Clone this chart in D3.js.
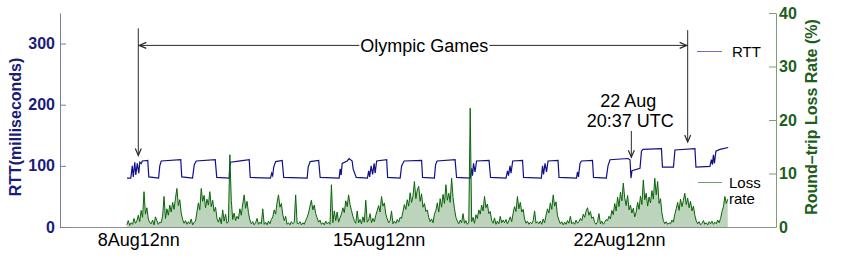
<!DOCTYPE html>
<html>
<head>
<meta charset="utf-8">
<script src="https://cdn.jsdelivr.net/npm/d3@7"></script>
<style>
  html, body { margin: 0; padding: 0; background: #fff; }
  #chart { width: 846px; height: 257px; }
  text { font-family: "Liberation Sans", Arial, Helvetica, sans-serif; }
</style>
</head>
<body>
<div id="chart"></div>
<script>
// ---------------- data ----------------
// times are "day of August 2008, UTC": 8.5 = 8 Aug 12:00
const xTickDays = [8.5, 15.5, 22.5];
const xTickLabels = ['8Aug12nn', '15Aug12nn', '22Aug12nn'];
const rttTicks = [0, 100, 200, 300];
const lossTicks = [0, 10, 20, 30, 40];

// RTT (ms), [day, value] at each corner of the trace
const rttPoints = [
  [8.171, 80], [8.282, 80], [8.325, 100], [8.354, 82], [8.398, 106], [8.427, 85],
  [8.471, 104], [8.515, 88], [8.544, 106], [8.587, 104], [8.616, 108], [8.776, 109],
  [8.806, 82], [9.091, 80], [9.126, 100], [9.169, 108], [9.737, 110], [9.766, 82],
  [10.080, 80], [10.130, 102], [10.188, 108], [10.741, 110], [10.785, 81],
  [11.148, 80], [11.163, 100], [11.192, 106], [11.469, 108], [11.731, 110], [11.760, 81],
  [12.350, 80], [12.385, 88], [12.414, 84], [12.444, 98], [12.502, 107], [12.691, 109], [12.735, 81],
  [13.418, 80], [13.448, 98], [13.506, 107], [13.753, 109], [13.797, 81],
  [14.350, 80], [14.379, 95], [14.408, 85], [14.437, 104], [14.583, 108], [14.641, 112],
  [14.728, 108], [14.757, 95], [14.846, 81],
  [15.174, 80], [15.209, 92], [15.238, 82], [15.282, 100], [15.325, 86], [15.369, 104],
  [15.398, 88], [15.442, 108], [15.733, 110], [15.762, 81],
  [16.126, 80], [16.169, 100], [16.242, 108], [16.751, 109], [16.779, 81],
  [17.123, 80], [17.158, 102], [17.202, 108], [17.726, 110], [17.769, 81],
  [18.170, 80], [18.204, 96], [18.234, 84], [18.263, 104], [18.307, 90], [18.351, 108],
  [18.715, 109], [18.759, 81],
  [19.210, 80], [19.253, 92], [19.282, 84], [19.326, 100], [19.355, 88], [19.404, 108],
  [19.691, 109], [19.720, 81],
  [20.238, 80], [20.273, 100], [20.302, 86], [20.346, 104], [20.389, 90], [20.433, 108],
  [20.724, 109], [20.753, 81],
  [21.262, 80], [21.291, 90], [21.320, 82], [21.364, 104], [21.408, 108], [21.728, 109], [21.757, 81],
  [22.130, 80], [22.179, 100], [22.238, 110], [22.762, 112], [22.820, 110], [22.849, 80],
  [22.878, 92], [23.111, 96], [23.154, 124], [23.198, 127], [23.736, 128], [23.765, 98],
  [24.086, 98], [24.129, 126], [24.711, 128], [24.740, 98],
  [25.147, 99], [25.191, 110], [25.220, 102], [25.249, 118], [25.278, 104], [25.322, 124],
  [25.438, 127], [25.680, 130]
];

// round-trip loss rate (%), hourly samples from 8 Aug 04:00 UTC, one row per day
const lossStartDay = 8 + 4 / 24;
const lossRate = [
  0.4,1.2,0.3,0.8,0.5,1.6,0.7,1.1,2.2,1.0,3.1,1.8,6.6,2.4,3.6,1.5,0.8,0.6,1.3,0.4,1.9,1.2,0.5,0.9,
  0.8,2.0,5.7,1.6,3.4,2.2,4.1,2.8,4.6,3.3,5.4,7.2,4.0,5.1,2.6,1.4,0.7,1.2,0.5,1.0,0.6,1.5,0.4,0.9,
  1.1,2.8,4.5,3.2,7.2,4.8,5.9,3.6,5.2,4.1,6.6,3.8,5.0,2.9,3.7,1.6,0.9,1.8,0.6,3.2,1.1,2.4,0.7,1.0,
  13.5,5.0,1.4,2.6,1.2,2.0,1.5,3.4,2.2,4.3,6.0,3.5,4.8,2.7,1.3,0.6,1.0,0.4,0.8,1.6,0.5,0.9,0.6,3.4,
  0.5,0.9,0.4,1.1,0.6,1.4,1.9,3.2,2.4,4.6,6.0,3.7,4.4,2.3,1.2,2.0,0.5,0.8,0.4,1.0,0.6,0.9,6.0,0.7,
  0.6,1.0,0.4,0.8,0.5,1.2,1.8,2.6,3.9,5.0,3.2,4.1,2.5,1.7,0.9,1.3,0.5,0.8,0.4,1.1,0.6,0.9,0.5,7.9,
  0.8,3.0,1.2,2.8,0.9,1.7,2.4,3.6,2.7,4.9,3.8,6.0,4.2,3.1,2.0,1.2,0.7,3.0,0.8,1.4,0.6,1.9,0.9,5.0,
  0.9,1.3,2.5,0.8,1.6,1.0,2.2,3.1,4.0,2.8,5.7,3.9,4.5,2.4,1.5,0.8,1.2,3.0,0.6,1.1,0.7,1.4,0.9,1.8,
  1.6,2.9,4.2,3.3,5.1,3.9,6.4,4.6,5.8,8.5,5.3,6.9,7.6,4.8,6.2,3.7,4.4,2.9,3.2,1.8,1.0,1.5,0.8,2.4,
  3.1,4.5,2.8,5.3,3.7,6.1,4.4,7.9,5.0,6.3,4.6,9.1,5.5,3.4,1.8,1.1,0.6,1.3,0.8,2.5,0.7,1.2,0.5,0.9,
  22.2,1.0,1.8,0.7,2.3,1.6,3.2,2.4,4.1,3.0,5.7,3.6,4.3,2.5,2.9,1.2,0.7,1.7,0.5,1.1,0.6,2.0,0.8,1.3,
  0.8,1.4,0.6,1.2,1.9,1.0,2.6,3.8,2.9,5.7,3.4,4.6,2.8,3.3,1.5,0.7,1.1,0.5,0.9,0.6,1.2,3.0,0.7,1.0,
  0.6,1.1,0.5,1.5,0.8,2.2,3.4,2.6,4.5,3.3,6.0,3.9,4.7,2.1,1.3,0.6,1.0,0.4,0.9,0.5,1.2,0.7,2.0,0.6,
  0.9,0.5,1.3,0.7,1.0,1.6,1.2,2.4,1.8,3.0,3.6,2.2,2.9,1.6,1.9,0.8,0.5,1.0,2.5,0.6,1.1,0.5,0.9,1.4,
  1.2,2.0,1.5,3.1,2.3,4.4,3.0,5.6,3.8,6.5,4.9,8.2,5.4,4.0,5.9,3.2,4.1,2.6,3.5,1.9,2.8,4.6,3.3,5.8,
  4.2,8.8,5.1,6.3,3.9,5.6,4.5,6.8,5.2,9.1,6.0,8.5,4.4,5.3,2.6,1.2,0.6,1.0,0.5,0.8,0.6,1.3,0.9,2.4,
  3.4,4.6,3.1,5.2,3.8,5.0,6.3,4.2,5.4,3.6,4.8,3.0,3.9,2.2,1.1,0.6,1.0,0.4,0.7,1.2,0.5,0.8,0.4,1.0,
  0.6,1.1,0.5,0.9,0.6,1.3,0.8,1.6,2.9,3.8,5.7,4.4,5.2
];

// events
const olympicStart = 8.5;        // opening, 8 Aug 12:00 UTC
const olympicEnd = 24.5;         // closing, 24 Aug 12:00 UTC
const routeChange = 22 + (20 + 37 / 60) / 24;  // 22 Aug 20:37 UTC

// ---------------- chart ----------------
const dayToDate = d => new Date(Date.UTC(2008, 7, 1) + (d - 1) * 864e5);

const W = 846, H = 257;
const plot = { left: 60, right: 776, top: 13, bottom: 227 };
const rttColor = '#10108a', lossColor = '#0b640b';
const rttText = '#1b1b78', lossText = '#1d5e1d';
const annColor = '#2a2a2a';
const font = '"Liberation Sans", Arial, sans-serif';

const svg = d3.select('#chart').append('svg')
  .attr('width', W).attr('height', H);

const x = d3.scaleUtc()
  .domain([dayToDate(6.22), dayToDate(27.072)])
  .range([plot.left, plot.right]);
const yRtt = d3.scaleLinear().domain([0, 350]).range([plot.bottom, plot.top]);
const yLoss = d3.scaleLinear().domain([0, 40]).range([plot.bottom, plot.top]);

// axes
const xAxis = svg.append('g')
  .attr('transform', `translate(0,${plot.bottom})`)
  .call(d3.axisBottom(x)
    .tickValues(xTickDays.map(dayToDate))
    .tickFormat((d, i) => xTickLabels[i])
    .tickSize(0).tickPadding(6));
xAxis.select('.domain').attr('stroke', '#8c8c8c');
xAxis.selectAll('text').attr('font-size', 18).attr('fill', '#000')
  .style('font-family', font);

const leftAxis = svg.append('g')
  .attr('transform', `translate(${plot.left},0)`)
  .call(d3.axisLeft(yRtt).tickValues(rttTicks)
    .tickSizeInner(-6).tickSizeOuter(0).tickPadding(5));
leftAxis.select('.domain').attr('stroke', '#7c7c9c');
leftAxis.selectAll('.tick line').attr('stroke', '#7c7c9c');
leftAxis.selectAll('text').attr('font-size', 16).attr('font-weight', 'bold')
  .attr('fill', rttText).style('font-family', font);

const rightAxis = svg.append('g')
  .attr('transform', `translate(${plot.right},0)`)
  .call(d3.axisRight(yLoss).tickValues(lossTicks)
    .tickSizeInner(-7).tickSizeOuter(0).tickPadding(3));
rightAxis.select('.domain').attr('stroke', '#7c9c7c');
rightAxis.selectAll('.tick line').attr('stroke', '#7c9c7c');
rightAxis.selectAll('text').attr('font-size', 16).attr('font-weight', 'bold')
  .attr('fill', lossText).style('font-family', font);

// axis titles
svg.append('text')
  .attr('transform', `translate(21,127) rotate(-90)`)
  .attr('text-anchor', 'middle')
  .attr('font-size', 16).attr('font-weight', 'bold').attr('fill', rttText)
  .text('RTT(milliseconds)');
svg.append('text')
  .attr('transform', `translate(817,117) rotate(-90)`)
  .attr('text-anchor', 'middle')
  .attr('font-size', 16).attr('font-weight', 'bold').attr('fill', lossText)
  .text('Round–trip Loss Rate (%)');

// series
const rttLine = d3.line()
  .x(d => x(dayToDate(d[0])))
  .y(d => yRtt(d[1]));
svg.append('path')
  .datum(rttPoints)
  .attr('d', rttLine)
  .attr('fill', 'none')
  .attr('stroke', rttColor)
  .attr('stroke-width', 1.2);

const lossX = (d, i) => x(dayToDate(lossStartDay + i / 24));
// light shading under the trace so the dense daily bursts read as a mass
svg.append('path')
  .datum(lossRate)
  .attr('d', d3.area().x(lossX).y0(yLoss(0)).y1(d => yLoss(d)))
  .attr('fill', lossColor)
  .attr('fill-opacity', 0.28);
svg.append('path')
  .datum(lossRate)
  .attr('d', d3.line().x(lossX).y(d => yLoss(d)))
  .attr('fill', 'none')
  .attr('stroke', lossColor)
  .attr('stroke-width', 1);

// ---------------- annotations ----------------
const ann = svg.append('g')
  .attr('stroke', annColor).attr('stroke-width', 1).attr('fill', 'none');

function seg(x1, y1, x2, y2) {
  ann.append('line').attr('x1', x1).attr('y1', y1).attr('x2', x2).attr('y2', y2);
}
function head(px, py, dir) {
  const L = 7, S = 3;
  const pts = {
    down:  [[px - S, py - L], [px, py], [px + S, py - L]],
    left:  [[px + L, py - S], [px, py], [px + L, py + S]],
    right: [[px - L, py - S], [px, py], [px - L, py + S]]
  }[dir];
  ann.append('path').attr('d', d3.line()(pts)).attr('stroke-width', 1.2);
}

const xs = x(dayToDate(olympicStart));
const xe = x(dayToDate(olympicEnd));
const yArrow = yRtt(297);

// vertical markers
seg(xs, yRtt(325), xs, yRtt(117));
head(xs, yRtt(117), 'down');
seg(xe, yRtt(322), xe, yRtt(139));
head(xe, yRtt(139), 'down');

// Olympic Games span
const lx = x(dayToDate(16.83));
const label = svg.append('text')
  .attr('x', lx).attr('y', yArrow + 6.5)
  .attr('text-anchor', 'middle')
  .attr('font-size', 18).attr('fill', '#000')
  .text('Olympic Games');
const lw = label.node().getComputedTextLength();
seg(xs, yArrow, lx - lw / 2 - 1, yArrow);
seg(lx + lw / 2 + 1, yArrow, xe, yArrow);
head(xs + 1, yArrow, 'left');
head(xe - 1, yArrow, 'right');

// route change
const xr = x(dayToDate(routeChange));
seg(xr, yRtt(157), xr, yRtt(114));
head(xr, yRtt(114), 'down');
svg.append('text')
  .attr('x', xr - 3).attr('y', yRtt(197))
  .attr('text-anchor', 'middle')
  .attr('font-size', 18).attr('fill', '#000')
  .text('22 Aug');
svg.append('text')
  .attr('x', xr - 1).attr('y', yRtt(163))
  .attr('text-anchor', 'middle')
  .attr('font-size', 18).attr('fill', '#000')
  .text('20:37 UTC');

// ---------------- legend ----------------
const legend = svg.append('g');
legend.append('line')
  .attr('x1', 697).attr('x2', 722).attr('y1', 51.5).attr('y2', 51.5)
  .attr('stroke', rttColor).attr('stroke-opacity', 0.6);
legend.append('text')
  .attr('x', 732).attr('y', 57)
  .attr('font-size', 15).attr('fill', '#000')
  .text('RTT');
legend.append('line')
  .attr('x1', 698).attr('x2', 722).attr('y1', 182.5).attr('y2', 182.5)
  .attr('stroke', lossColor).attr('stroke-opacity', 0.6);
legend.append('text')
  .attr('x', 729).attr('y', 188)
  .attr('font-size', 15).attr('fill', '#000')
  .text('Loss');
legend.append('text')
  .attr('x', 729).attr('y', 204)
  .attr('font-size', 15).attr('fill', '#000')
  .text('rate');
</script>
</body>
</html>
